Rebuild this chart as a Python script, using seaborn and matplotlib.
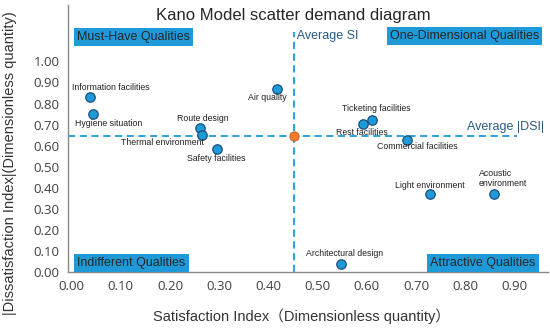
import pandas as pd
import matplotlib
matplotlib.use("Agg")
import matplotlib.pyplot as plt
import seaborn as sns

# ------------------------------
# Data
# ------------------------------
factors = ["Information facilities", "Hygiene situation", "Route design",
           "Thermal environment", "Safety facilities", "Air quality",
           "Ticketing facilities", "Rest facilities", "Commercial facilities",
           "Light environment", "Acoustic\nenvironment", "Architectural design"]
si = [0.038, 0.043, 0.260, 0.264, 0.296, 0.417, 0.610, 0.593, 0.681, 0.729, 0.858, 0.547]
dsi = [0.833, 0.748, 0.684, 0.649, 0.586, 0.870, 0.720, 0.701, 0.629, 0.370, 0.371, 0.040]
avg_si = 0.452
avg_dsi = 0.644

# label offsets in points (dx, dy)
offsets = [(15, 6.5), (11.5, -6.5), (2, 6.5), (-28, -5), (-1, -7), (-6.5, -6.5),
           (3, 8.5), (-1, -6), (8, -5), (0, 6.5), (-10.5, 11), (3, 7)]
ha_list = ["center"] * 10 + ["left", "center"]

x_ticks = [0.0, 0.1, 0.2, 0.3, 0.4, 0.5, 0.6, 0.7, 0.8, 0.9]
y_ticks = [0.0, 0.1, 0.2, 0.3, 0.4, 0.5, 0.6, 0.7, 0.8, 0.9, 1.0]

df = pd.DataFrame({"SI": si, "DSI": dsi, "Factor": factors})

sns.set_style("white")
plt.rcParams["font.family"] = ["Liberation Sans", "DejaVu Sans"]

blue = "#1f9ad8"
dark = "#2b5a86"

fig = plt.figure(figsize=(5.5, 3.3), dpi=100)
ax = fig.add_axes([0.124, 0.176, 0.872, 0.81])

# average lines
ax.axhline(avg_dsi, xmin=0, xmax=(0.905 + 0.007) / 0.975, color=blue,
           linestyle=(0, (4, 2.5)), linewidth=1.3, zorder=1)
ax.plot([avg_si, avg_si], [0, 1.14], color=blue,
        linestyle=(0, (4, 2.5)), linewidth=1.3, zorder=1)

sns.scatterplot(data=df, x="SI", y="DSI", ax=ax, s=46, color=blue,
                edgecolor="#1c4f7a", linewidth=0.9, zorder=3)
ax.scatter([avg_si], [avg_dsi], s=45, color="#ed7d31",
           edgecolor="#c55a11", linewidth=0.6, zorder=4)

for f, x, y, (dx, dy), ha in zip(factors, si, dsi, offsets, ha_list):
    ax.annotate(f, (x, y), xytext=(dx, dy), textcoords="offset points",
                ha=ha, va="center", fontsize=6.3, color="#222222",
                linespacing=1.15)

ax.text(avg_si, 1.12, " Average SI", color=dark, fontsize=9, ha="left", va="center")
ax.text(0.96, avg_dsi + 0.045, "Average |DSI|", color=dark, fontsize=9,
        ha="right", va="center")

# quadrant labels
box = dict(boxstyle="square,pad=0.25", facecolor=blue, edgecolor="none")
ax.text(0.019, 0.878, "Must-Have Qualities", transform=ax.transAxes,
        fontsize=9, ha="left", va="center", bbox=box)
ax.text(0.982, 0.884, "One-Dimensional Qualities", transform=ax.transAxes,
        fontsize=9, ha="right", va="center", bbox=box)
ax.text(0.019, 0.034, "Indifferent Qualities", transform=ax.transAxes,
        fontsize=9, ha="left", va="center", bbox=box)
ax.text(0.975, 0.034, "Attractive Qualities", transform=ax.transAxes,
        fontsize=9, ha="right", va="center", bbox=box)

fig.text(0.533, 0.953, "Kano Model scatter demand diagram", fontsize=12,
         ha="center", va="center")

ax.set_xlim(-0.007, 0.968)
ax.set_ylim(0, 1.27)
ax.set_xticks(x_ticks)
ax.set_xticklabels([f"{v:.2f}" for v in x_ticks])
ax.set_yticks(y_ticks)
ax.set_yticklabels([f"{v:.2f}" for v in y_ticks])
ax.tick_params(length=0, labelsize=9.5, labelcolor="#404040", pad=6)
for lab in ax.get_xticklabels() + ax.get_yticklabels():
    lab.set_family(["Open Sans", "DejaVu Sans"])

sns.despine(ax=ax)
for side in ["left", "bottom"]:
    ax.spines[side].set_color("#888888")
    ax.spines[side].set_linewidth(1.0)

ax.set_xlabel("Satisfaction Index（Dimensionless quantity）", fontsize=10.5,
              family=["Liberation Sans", "Noto Sans CJK SC"], color="#333333")
ax.set_ylabel("|Dissatisfaction Index|(Dimensionless quantity)", fontsize=10.5,
              family=["Liberation Sans", "Noto Sans CJK SC"], color="#333333")
ax.xaxis.set_label_coords(0.486, -0.137)
ax.yaxis.set_label_coords(-0.106, 0.408)

plt.savefig("out.png", dpi=100)
plt.close()
